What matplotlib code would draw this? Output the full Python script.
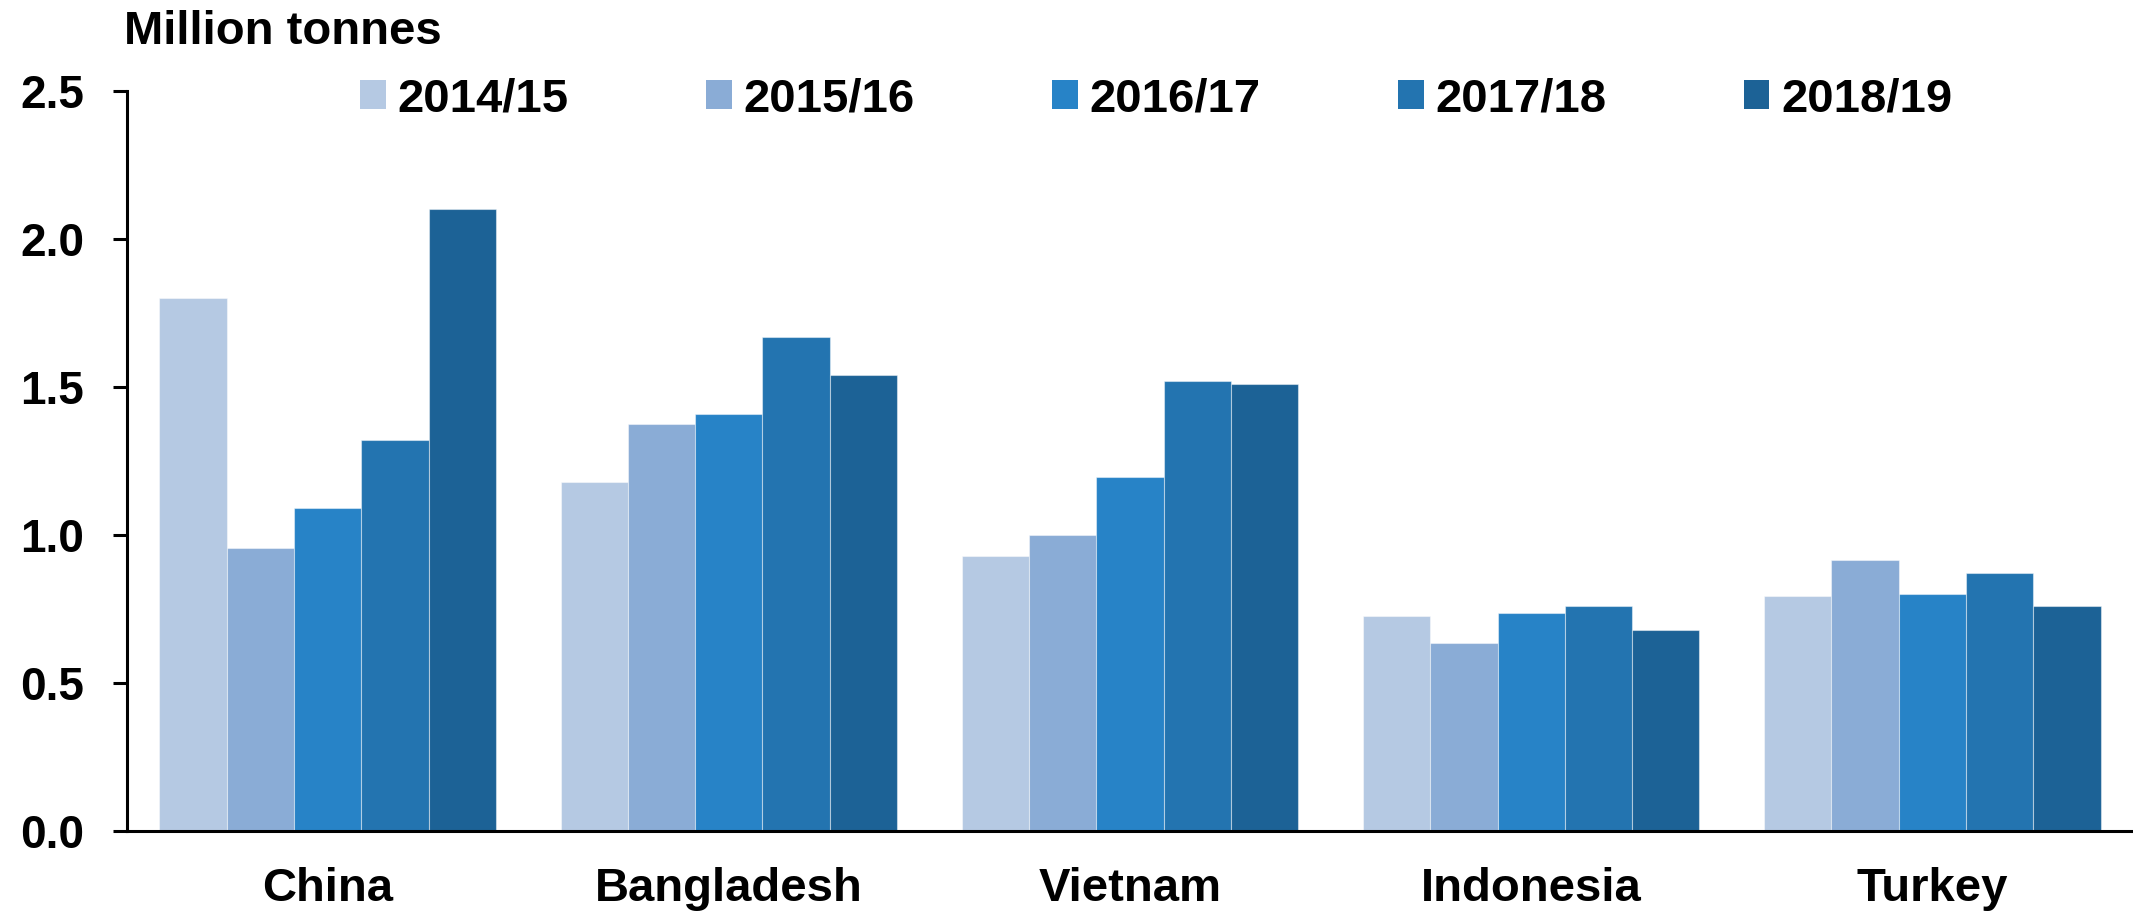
import matplotlib
matplotlib.use("Agg")
import matplotlib.pyplot as plt
import numpy as np

countries = ["China", "Bangladesh", "Vietnam", "Indonesia", "Turkey"]
seasons = ["2014/15", "2015/16", "2016/17", "2017/18", "2018/19"]
v_2014_15 = [1.80, 1.18, 0.93, 0.725, 0.795]
v_2015_16 = [0.955, 1.375, 1.00, 0.635, 0.915]
v_2016_17 = [1.09, 1.41, 1.195, 0.735, 0.80]
v_2017_18 = [1.32, 1.67, 1.52, 0.76, 0.87]
v_2018_19 = [2.10, 1.54, 1.51, 0.68, 0.76]
series = [v_2014_15, v_2015_16, v_2016_17, v_2017_18, v_2018_19]
colors = ["#B5C9E3", "#8AACD6", "#2783C7", "#2374B0", "#1C6296"]
yticks = [0.0, 0.5, 1.0, 1.5, 2.0, 2.5]
ylabel = "Million tonnes"

plt.rcParams['font.family'] = ['Liberation Sans', 'DejaVu Sans']
plt.rcParams['font.weight'] = 'bold'

W, H = 2133, 915
fig = plt.figure(figsize=(W / 100, H / 100), dpi=100)
ax = fig.add_axes([127 / W, 1 - 831 / H, (W - 127) / W, (831 - 91) / H])

x = np.arange(len(countries))
bw = 0.1677
for i, (vals, c, lab) in enumerate(zip(series, colors, seasons)):
    ax.bar(x + (i - 2) * bw, vals, width=bw, color=c, label=lab,
           edgecolor=(1, 1, 1, 0.45), linewidth=0.8, zorder=2)

ax.set_xlim(-0.5, 4.5)
ax.set_ylim(0, 2.5)
ax.set_yticks(yticks)
ax.set_yticklabels([f"{t:.1f}" for t in yticks], fontsize=33, fontweight='bold')
ax.set_xticks(x)
ax.set_xticklabels(countries, fontsize=34, fontweight='bold')
ax.tick_params(axis='x', length=0, pad=26)
ax.tick_params(axis='y', length=10, width=2.2, direction='out', pad=21)
for s in ['top', 'right']:
    ax.spines[s].set_visible(False)
for s in ['left', 'bottom']:
    ax.spines[s].set_linewidth(2.2)
    ax.spines[s].set_color('black')
ax.spines['bottom'].set_zorder(3)

fig.text(124 / W, 1 - 44 / H, ylabel, fontsize=34, fontweight='bold',
         ha='left', va='baseline')

handles, labels = ax.get_legend_handles_labels()
leg = fig.legend(handles, labels, loc='center left',
                 bbox_to_anchor=(360 / W, 1 - 99 / H), ncol=5, frameon=False,
                 fontsize=34, handlelength=0.55, handleheight=0.55,
                 handletextpad=0.25, columnspacing=2.9, borderpad=0,
                 borderaxespad=0)
for t in leg.get_texts():
    t.set_fontweight('bold')
for p in leg.get_patches():
    p.set_edgecolor('none')

fig.savefig("out.png", dpi=100)
